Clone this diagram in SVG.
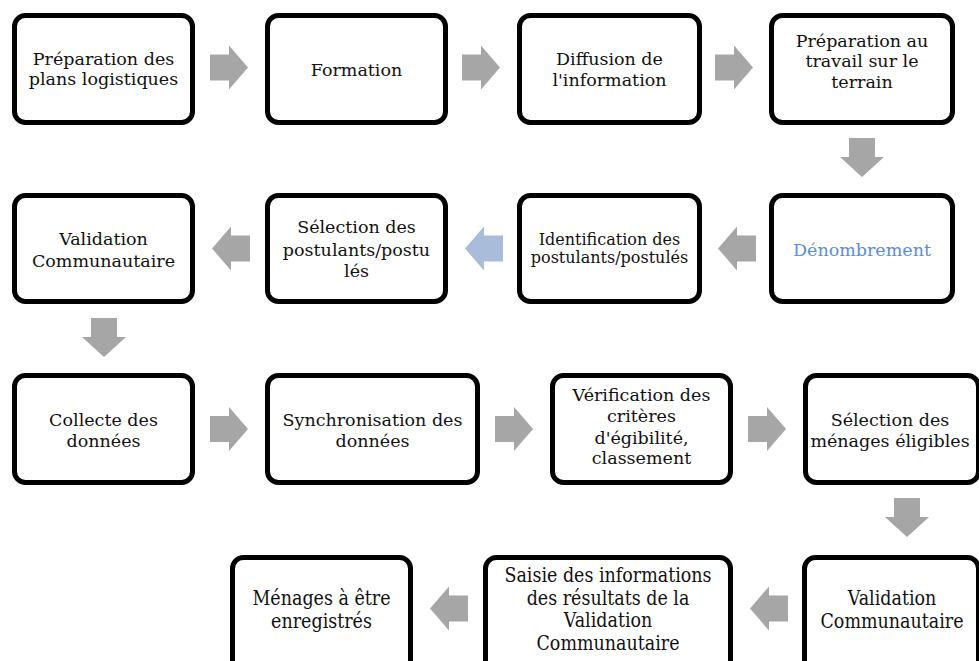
<svg xmlns="http://www.w3.org/2000/svg" width="979" height="661" viewBox="0 0 979 661">
<style>
.box{fill:#fff;stroke:#000;stroke-width:5}
.t{font-family:"DejaVu Serif","Liberation Serif",serif;font-size:17.5px;fill:#111;text-anchor:middle}
.s{font-size:16px}
.blue{fill:#5b8dd4}
.arr{fill:#a6a6a6}
.arrb{fill:#a9bcd9}
</style>
<defs>
<path id="ar" d="M0,-13 H19 V-22 L38,0 L19,22 V13 H0 Z"/>
<path id="al" d="M0,-13 H-19 V-22 L-38,0 L-19,22 V13 H0 Z"/>
<path id="ad" d="M-13,0 V19 H-22 L0,39 L22,19 H13 V0 Z"/>
</defs>
<rect width="979" height="661" fill="#fff"/>
<g id="connectors">
<use href="#ar" class="arr" x="210" y="67.5"/>
<use href="#ar" class="arr" x="462" y="67.5"/>
<use href="#ar" class="arr" x="715" y="67.5"/>
<use href="#ad" class="arr" x="862" y="138"/>
<use href="#al" class="arr" x="756" y="248.5"/>
<use href="#al" class="arrb" x="503" y="248.5"/>
<use href="#al" class="arr" x="250" y="248.5"/>
<use href="#ad" class="arr" x="104" y="318"/>
<use href="#ar" class="arr" x="210" y="429"/>
<use href="#ar" class="arr" x="495" y="429"/>
<use href="#ar" class="arr" x="748" y="429"/>
<use href="#ad" class="arr" x="907" y="498"/>
<use href="#al" class="arr" x="788" y="608.5"/>
<use href="#al" class="arr" x="468" y="608.5"/>
</g>
<g id="n1"><rect class="box" x="14.5" y="15.5" width="178" height="107" rx="11"/>
<text class="t" x="103.5" y="65">Préparation des</text><text class="t" x="103.5" y="85">plans logistiques</text></g>
<g id="n2"><rect class="box" x="267.5" y="15.5" width="178" height="107" rx="11"/>
<text class="t" x="356.5" y="76">Formation</text></g>
<g id="n3"><rect class="box" x="519.5" y="15.5" width="180" height="107" rx="11"/>
<text class="t" x="609.5" y="65">Diffusion de</text><text class="t" x="609.5" y="86">l'information</text></g>
<g id="n4"><rect class="box" x="771.5" y="15.5" width="181" height="107" rx="11"/>
<text class="t" x="862" y="47">Préparation au</text><text class="t" x="862" y="67">travail sur le</text><text class="t" x="862" y="88">terrain</text></g>
<g id="n5"><rect class="box" x="771.5" y="195.5" width="181" height="106" rx="11"/>
<text class="t blue" x="862" y="256">Dénombrement</text></g>
<g id="n6"><rect class="box" x="519.5" y="195.5" width="180" height="106" rx="11"/>
<text class="t s" x="609.5" y="245">Identification des</text><text class="t s" x="609.5" y="263">postulants/postulés</text></g>
<g id="n7"><rect class="box" x="267.5" y="195.5" width="178" height="106" rx="11"/>
<text class="t" x="356.5" y="233">Sélection des</text><text class="t" x="356.5" y="256">postulants/postu</text><text class="t" x="356.5" y="277">lés</text></g>
<g id="n8"><rect class="box" x="14.5" y="195.5" width="178" height="106" rx="11"/>
<text class="t" x="103.5" y="245">Validation</text><text class="t" x="103.5" y="267">Communautaire</text></g>
<g id="n9"><rect class="box" x="14.5" y="375.5" width="178" height="107" rx="11"/>
<text class="t" x="103.5" y="426">Collecte des</text><text class="t" x="103.5" y="447">données</text></g>
<g id="n10"><rect class="box" x="267.5" y="375.5" width="210" height="107" rx="11"/>
<text class="t" x="372.5" y="426">Synchronisation des</text><text class="t" x="372.5" y="447">données</text></g>
<g id="n11"><rect class="box" x="552.5" y="375.5" width="178" height="107" rx="11"/>
<text class="t" x="641.5" y="401">Vérification des</text><text class="t" x="641.5" y="422">critères</text><text class="t" x="641.5" y="444">d'égibilité,</text><text class="t" x="641.5" y="464">classement</text></g>
<g id="n12"><rect class="box" x="805.5" y="375.5" width="173" height="107" rx="11"/>
<text class="t" x="890" y="426">Sélection des</text><text class="t" x="890" y="447">ménages éligibles</text></g>
<g id="n13"><rect class="box" x="804.5" y="557.5" width="174" height="130" rx="11"/>
<g transform="translate(892,616) scale(1,1.15)"><text class="t" x="0" y="-9.6">Validation</text><text class="t" x="0" y="10.4">Communautaire</text></g></g>
<g id="n14"><rect class="box" x="485.5" y="557.5" width="245" height="130" rx="11"/>
<g transform="translate(608,616) scale(1,1.15)"><text class="t" x="0" y="-29.6">Saisie des informations</text><text class="t" x="0" y="-9.6">des résultats de la</text><text class="t" x="0" y="9.6">Validation</text><text class="t" x="0" y="29.6">Communautaire</text></g></g>
<g id="n15"><rect class="box" x="232.5" y="557.5" width="178" height="130" rx="11"/>
<g transform="translate(321.5,616) scale(1,1.15)"><text class="t" x="0" y="-9.6">Ménages à être</text><text class="t" x="0" y="10.4">enregistrés</text></g></g>
</svg>
